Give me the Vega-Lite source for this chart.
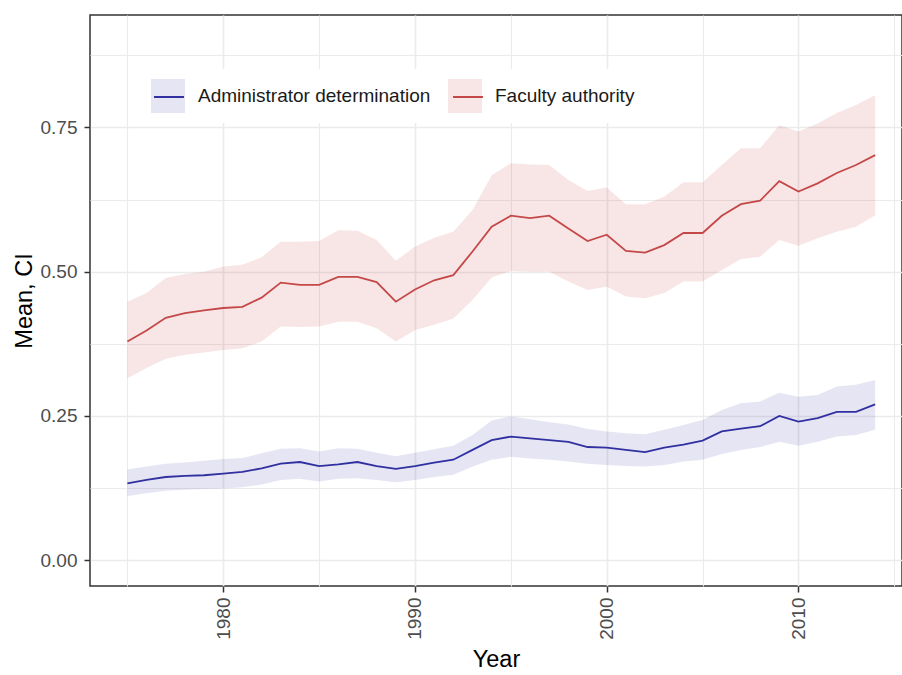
{
  "$schema": "https://vega.github.io/schema/vega-lite/v6.json",
  "width": 812,
  "height": 571,
  "autosize": {"type": "none"},
  "padding": {"left": 90, "top": 15, "right": 0, "bottom": 89},
  "background": "white",
  "config": {
    "font": "Liberation Sans",
    "view": {"stroke": "#333333", "strokeWidth": 1.5},
    "axis": {
      "domain": false,
      "labelFont": "Liberation Sans",
      "labelFontSize": 19,
      "labelColor": "#4D4D4D",
      "titleFont": "Liberation Sans",
      "titleFontSize": 23.5,
      "titleFontWeight": "normal",
      "titleColor": "#000000",
      "tickColor": "#333333",
      "tickSize": 6,
      "tickWidth": 1.5,
      "gridColor": "#EBEBEB"
    },
    "legend": {
      "labelFont": "Liberation Sans",
      "labelFontSize": 19,
      "labelColor": "#1A1A1A",
      "labelLimit": 500
    }
  },
  "data": {
    "values": [
      {"year": 1975, "group": "Administrator determination", "mean": 0.133, "lo": 0.111, "hi": 0.157},
      {"year": 1976, "group": "Administrator determination", "mean": 0.139, "lo": 0.116, "hi": 0.162},
      {"year": 1977, "group": "Administrator determination", "mean": 0.144, "lo": 0.120, "hi": 0.167},
      {"year": 1978, "group": "Administrator determination", "mean": 0.146, "lo": 0.122, "hi": 0.169},
      {"year": 1979, "group": "Administrator determination", "mean": 0.147, "lo": 0.123, "hi": 0.172},
      {"year": 1980, "group": "Administrator determination", "mean": 0.150, "lo": 0.124, "hi": 0.175},
      {"year": 1981, "group": "Administrator determination", "mean": 0.153, "lo": 0.126, "hi": 0.177},
      {"year": 1982, "group": "Administrator determination", "mean": 0.159, "lo": 0.131, "hi": 0.185},
      {"year": 1983, "group": "Administrator determination", "mean": 0.167, "lo": 0.139, "hi": 0.193},
      {"year": 1984, "group": "Administrator determination", "mean": 0.170, "lo": 0.141, "hi": 0.194},
      {"year": 1985, "group": "Administrator determination", "mean": 0.163, "lo": 0.136, "hi": 0.188},
      {"year": 1986, "group": "Administrator determination", "mean": 0.166, "lo": 0.141, "hi": 0.194},
      {"year": 1987, "group": "Administrator determination", "mean": 0.170, "lo": 0.142, "hi": 0.193},
      {"year": 1988, "group": "Administrator determination", "mean": 0.163, "lo": 0.139, "hi": 0.186},
      {"year": 1989, "group": "Administrator determination", "mean": 0.158, "lo": 0.135, "hi": 0.180},
      {"year": 1990, "group": "Administrator determination", "mean": 0.163, "lo": 0.139, "hi": 0.186},
      {"year": 1991, "group": "Administrator determination", "mean": 0.169, "lo": 0.144, "hi": 0.192},
      {"year": 1992, "group": "Administrator determination", "mean": 0.174, "lo": 0.148, "hi": 0.198},
      {"year": 1993, "group": "Administrator determination", "mean": 0.191, "lo": 0.162, "hi": 0.217},
      {"year": 1994, "group": "Administrator determination", "mean": 0.208, "lo": 0.174, "hi": 0.242},
      {"year": 1995, "group": "Administrator determination", "mean": 0.214, "lo": 0.179, "hi": 0.249},
      {"year": 1996, "group": "Administrator determination", "mean": 0.211, "lo": 0.176, "hi": 0.244},
      {"year": 1997, "group": "Administrator determination", "mean": 0.208, "lo": 0.174, "hi": 0.239},
      {"year": 1998, "group": "Administrator determination", "mean": 0.205, "lo": 0.171, "hi": 0.235},
      {"year": 1999, "group": "Administrator determination", "mean": 0.196, "lo": 0.167, "hi": 0.227},
      {"year": 2000, "group": "Administrator determination", "mean": 0.195, "lo": 0.165, "hi": 0.223},
      {"year": 2001, "group": "Administrator determination", "mean": 0.191, "lo": 0.163, "hi": 0.220},
      {"year": 2002, "group": "Administrator determination", "mean": 0.187, "lo": 0.162, "hi": 0.218},
      {"year": 2003, "group": "Administrator determination", "mean": 0.195, "lo": 0.165, "hi": 0.226},
      {"year": 2004, "group": "Administrator determination", "mean": 0.200, "lo": 0.171, "hi": 0.234},
      {"year": 2005, "group": "Administrator determination", "mean": 0.207, "lo": 0.174, "hi": 0.243},
      {"year": 2006, "group": "Administrator determination", "mean": 0.223, "lo": 0.184, "hi": 0.260},
      {"year": 2007, "group": "Administrator determination", "mean": 0.228, "lo": 0.191, "hi": 0.272},
      {"year": 2008, "group": "Administrator determination", "mean": 0.232, "lo": 0.196, "hi": 0.275},
      {"year": 2009, "group": "Administrator determination", "mean": 0.250, "lo": 0.205, "hi": 0.290},
      {"year": 2010, "group": "Administrator determination", "mean": 0.240, "lo": 0.198, "hi": 0.283},
      {"year": 2011, "group": "Administrator determination", "mean": 0.246, "lo": 0.205, "hi": 0.286},
      {"year": 2012, "group": "Administrator determination", "mean": 0.257, "lo": 0.214, "hi": 0.301},
      {"year": 2013, "group": "Administrator determination", "mean": 0.257, "lo": 0.217, "hi": 0.304},
      {"year": 2014, "group": "Administrator determination", "mean": 0.270, "lo": 0.226, "hi": 0.312},
      {"year": 1975, "group": "Faculty authority", "mean": 0.379, "lo": 0.315, "hi": 0.448},
      {"year": 1976, "group": "Faculty authority", "mean": 0.398, "lo": 0.333, "hi": 0.463},
      {"year": 1977, "group": "Faculty authority", "mean": 0.420, "lo": 0.349, "hi": 0.489},
      {"year": 1978, "group": "Faculty authority", "mean": 0.428, "lo": 0.356, "hi": 0.496},
      {"year": 1979, "group": "Faculty authority", "mean": 0.433, "lo": 0.360, "hi": 0.500},
      {"year": 1980, "group": "Faculty authority", "mean": 0.437, "lo": 0.364, "hi": 0.509},
      {"year": 1981, "group": "Faculty authority", "mean": 0.439, "lo": 0.367, "hi": 0.512},
      {"year": 1982, "group": "Faculty authority", "mean": 0.455, "lo": 0.379, "hi": 0.525},
      {"year": 1983, "group": "Faculty authority", "mean": 0.481, "lo": 0.405, "hi": 0.552},
      {"year": 1984, "group": "Faculty authority", "mean": 0.477, "lo": 0.404, "hi": 0.552},
      {"year": 1985, "group": "Faculty authority", "mean": 0.477, "lo": 0.405, "hi": 0.553},
      {"year": 1986, "group": "Faculty authority", "mean": 0.491, "lo": 0.413, "hi": 0.572},
      {"year": 1987, "group": "Faculty authority", "mean": 0.491, "lo": 0.413, "hi": 0.571},
      {"year": 1988, "group": "Faculty authority", "mean": 0.482, "lo": 0.402, "hi": 0.555},
      {"year": 1989, "group": "Faculty authority", "mean": 0.448, "lo": 0.379, "hi": 0.519},
      {"year": 1990, "group": "Faculty authority", "mean": 0.469, "lo": 0.399, "hi": 0.543},
      {"year": 1991, "group": "Faculty authority", "mean": 0.485, "lo": 0.408, "hi": 0.559},
      {"year": 1992, "group": "Faculty authority", "mean": 0.494, "lo": 0.419, "hi": 0.569},
      {"year": 1993, "group": "Faculty authority", "mean": 0.535, "lo": 0.451, "hi": 0.607},
      {"year": 1994, "group": "Faculty authority", "mean": 0.578, "lo": 0.490, "hi": 0.667},
      {"year": 1995, "group": "Faculty authority", "mean": 0.597, "lo": 0.501, "hi": 0.688},
      {"year": 1996, "group": "Faculty authority", "mean": 0.593, "lo": 0.500, "hi": 0.686},
      {"year": 1997, "group": "Faculty authority", "mean": 0.597, "lo": 0.500, "hi": 0.685},
      {"year": 1998, "group": "Faculty authority", "mean": 0.575, "lo": 0.483, "hi": 0.659},
      {"year": 1999, "group": "Faculty authority", "mean": 0.553, "lo": 0.468, "hi": 0.640},
      {"year": 2000, "group": "Faculty authority", "mean": 0.564, "lo": 0.474, "hi": 0.646},
      {"year": 2001, "group": "Faculty authority", "mean": 0.536, "lo": 0.457, "hi": 0.617},
      {"year": 2002, "group": "Faculty authority", "mean": 0.533, "lo": 0.454, "hi": 0.617},
      {"year": 2003, "group": "Faculty authority", "mean": 0.546, "lo": 0.463, "hi": 0.630},
      {"year": 2004, "group": "Faculty authority", "mean": 0.567, "lo": 0.483, "hi": 0.655},
      {"year": 2005, "group": "Faculty authority", "mean": 0.567, "lo": 0.483, "hi": 0.655},
      {"year": 2006, "group": "Faculty authority", "mean": 0.597, "lo": 0.503, "hi": 0.685},
      {"year": 2007, "group": "Faculty authority", "mean": 0.617, "lo": 0.522, "hi": 0.714},
      {"year": 2008, "group": "Faculty authority", "mean": 0.623, "lo": 0.526, "hi": 0.714},
      {"year": 2009, "group": "Faculty authority", "mean": 0.657, "lo": 0.555, "hi": 0.754},
      {"year": 2010, "group": "Faculty authority", "mean": 0.639, "lo": 0.545, "hi": 0.743},
      {"year": 2011, "group": "Faculty authority", "mean": 0.653, "lo": 0.558, "hi": 0.757},
      {"year": 2012, "group": "Faculty authority", "mean": 0.671, "lo": 0.569, "hi": 0.775},
      {"year": 2013, "group": "Faculty authority", "mean": 0.685, "lo": 0.578, "hi": 0.789},
      {"year": 2014, "group": "Faculty authority", "mean": 0.702, "lo": 0.598, "hi": 0.806}
    ]
  },
  "encoding": {
    "x": {
      "field": "year",
      "type": "quantitative",
      "title": "Year",
      "scale": {"domain": [1973.05, 2015.4], "nice": false, "zero": false},
      "axis": {
        "values": [1975, 1980, 1985, 1990, 1995, 2000, 2005, 2010, 2015],
        "labelExpr": "datum.value % 10 === 0 ? format(datum.value, 'd') : ''",
        "labelAngle": 270,
        "labelAlign": "right",
        "labelBaseline": "middle",
        "labelPadding": 5,
        "titlePadding": 8,
        "labelFlush": false,
        "labelOverlap": false,
        "tickOpacity": {"condition": {"test": "datum.value % 10 === 0", "value": 1}, "value": 0},
        "gridWidth": {"condition": {"test": "datum.value % 10 === 0", "value": 1.6}, "value": 1.1}
      }
    },
    "y": {
      "type": "quantitative",
      "title": "Mean, CI",
      "scale": {"domain": [-0.045, 0.945], "nice": false, "zero": false},
      "axis": {
        "values": [0, 0.125, 0.25, 0.375, 0.5, 0.625, 0.75, 0.875],
        "labelExpr": "(datum.value * 4) % 1 === 0 ? format(datum.value, '.2f') : ''",
        "labelPadding": 7,
        "titlePadding": 4,
        "labelFlush": false,
        "labelOverlap": false,
        "tickOpacity": {"condition": {"test": "(datum.value * 4) % 1 === 0", "value": 1}, "value": 0},
        "gridWidth": {"condition": {"test": "(datum.value * 4) % 1 === 0", "value": 1.6}, "value": 1.1}
      }
    }
  },
  "layer": [
    {
      "mark": {"type": "area", "fillOpacity": 0.13},
      "encoding": {
        "y": {"field": "lo"},
        "y2": {"field": "hi"},
        "fill": {
          "field": "group",
          "type": "nominal",
          "scale": {"domain": ["Administrator determination", "Faculty authority"], "range": ["#3333AA", "#C83C3C"]},
          "legend": {
            "title": null,
            "orient": "none",
            "direction": "horizontal",
            "legendX": 51,
            "legendY": 54,
            "padding": 10,
            "fillColor": "white",
            "symbolType": "square",
            "symbolSize": 1156,
            "symbolOpacity": 0.13,
            "symbolStrokeWidth": 0,
            "labelOffset": 13,
            "columnPadding": 17
          }
        }
      }
    },
    {
      "mark": {"type": "line", "strokeWidth": 1.8},
      "encoding": {
        "y": {"field": "mean"},
        "stroke": {
          "field": "group",
          "type": "nominal",
          "scale": {"range": ["#3030A0", "#C44848"]},
          "legend": {
            "title": null,
            "orient": "none",
            "direction": "horizontal",
            "legendX": 51,
            "legendY": 54,
            "padding": 10,
            "symbolType": "M-0.88,0H0.88",
            "symbolSize": 1156,
            "symbolStrokeWidth": 2,
            "labelExpr": "''",
            "labelOffset": 13,
            "columnPadding": 249
          }
        }
      }
    }
  ]
}
